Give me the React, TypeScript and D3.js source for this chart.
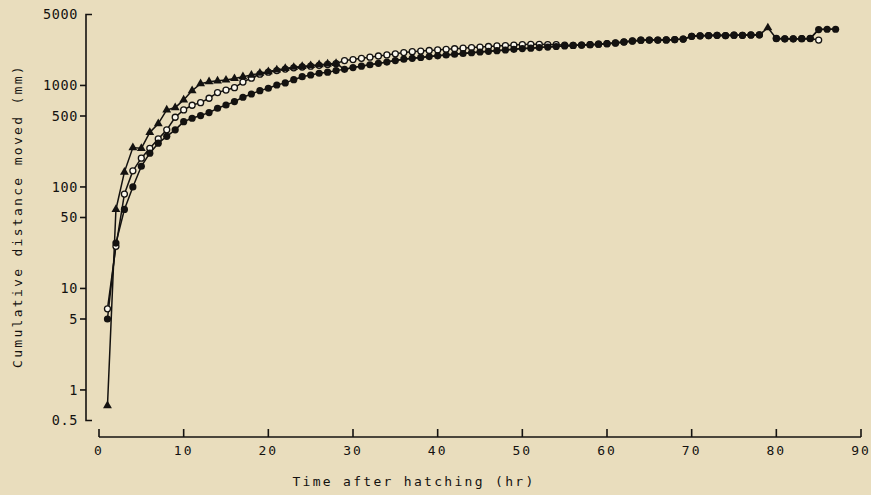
import React from 'react'
import * as d3 from 'd3'

// hours after hatching (one reading per hour)
const hours = [
  1, 2, 3, 4, 5, 6, 7, 8, 9, 10, 11, 12, 13, 14, 15, 16, 17, 18, 19, 20,
  21, 22, 23, 24, 25, 26, 27, 28, 29, 30, 31, 32, 33, 34, 35, 36, 37, 38, 39, 40,
  41, 42, 43, 44, 45, 46, 47, 48, 49, 50, 51, 52, 53, 54, 55, 56, 57, 58, 59, 60,
  61, 62, 63, 64, 65, 66, 67, 68, 69, 70, 71, 72, 73, 74, 75, 76, 77, 78, 79, 80,
  81, 82, 83, 84, 85, 86, 87,
]

// filled circles
const filledSeries: (number | null)[] = [
  5, 28, 60, 100, 160, 215, 270, 315, 365, 440,
  475, 505, 540, 596, 642, 693, 765, 824, 889, 938,
  1010, 1060, 1140, 1220, 1268, 1318, 1350, 1400, 1440, 1500,
  1550, 1600, 1650, 1700, 1760, 1815, 1850, 1890, 1925, 1960,
  1995, 2030, 2065, 2100, 2135, 2170, 2200, 2235, 2270, 2310,
  2330, 2360, 2390, 2420, 2450, 2480, 2500, 2520, 2550, 2580,
  2620, 2680, 2740, 2790, 2800, 2800, 2810, 2830, 2860, 3050,
  3080, 3100, 3120, 3100, 3130, 3120, 3140, 3150, null, 2900,
  2880, 2880, 2890, 2900, 3550, 3580, 3580,
]

// open circles
const openSeries: (number | null)[] = [
  6.3, 26, 85, 144, 192, 240, 297, 365, 486, 574,
  638, 677, 748, 850, 900, 950, 1080, 1180, 1290, 1350,
  1400, 1450, 1490, 1520, 1550, 1580, 1610, 1640, 1760, 1800,
  1850, 1900, 1950, 2000, 2050, 2110, 2150, 2180, 2210, 2240,
  2270, 2300, 2330, 2360, 2390, 2420, 2450, 2470, 2500, 2530,
  2540, 2540, 2530, 2520, 2500, 2480, 2500, 2520, 2550, 2580,
  2620, 2680, 2740, 2790, 2800, 2800, 2810, 2830, 2860, 3050,
  3080, 3100, 3120, 3100, 3130, 3120, 3140, 3150, null, 2900,
  2880, 2880, 2890, 2900, 2800,
]

// filled triangles
const triangleSeries: (number | null)[] = [
  0.7, 60, 140, 244, 240, 345, 420, 574, 605, 720,
  890, 1040, 1090, 1110, 1130, 1170, 1220, 1265, 1320, 1370,
  1420, 1470, 1510, 1540, 1570, 1600, 1630, 1650, 1440, 1500,
  1550, 1600, 1650, 1700, 1760, 1815, 1850, 1890, 1925, 1960,
  1995, 2030, 2065, 2100, 2135, 2170, 2200, 2235, 2270, 2310,
  2330, 2360, 2390, 2420, 2450, 2480, 2500, 2520, 2550, 2580,
  2620, 2680, 2740, 2790, 2800, 2800, 2810, 2830, 2860, 3050,
  3080, 3100, 3120, 3100, 3130, 3120, 3140, 3150, 3700, 2900,
  2880, 2880, 2890, 2900, 3550, 3580, 3580,
]

const xTicks = [0, 10, 20, 30, 40, 50, 60, 70, 80, 90]
const yTicks = [0.5, 1, 5, 10, 50, 100, 500, 1000, 5000]
const yTickLabels = ['0.5', '1', '5', '10', '50', '100', '500', '1000', '5000']

const W = 871
const H = 495
const BG = '#e9ddbd'
const INK = '#141210'
const FONT = '"DejaVu Sans Mono", "Liberation Mono", monospace'

export default function App() {
  const x = d3.scaleLinear().domain([0, 90]).range([99, 861])
  const y = d3.scaleLog().domain([0.5, 5000]).range([420.5, 14.5])
  const axisY = 86
  const axisX = 437

  const line = d3.line<number | null>()
    .defined(d => d != null)
    .x((_, i) => x(hours[i]))
    .y(d => y(d as number))

  const pts = (s: (number | null)[]) =>
    s.map((v, i) => ({ t: hours[i], v, i })).filter(p => p.v != null) as { t: number; v: number; i: number }[]

  const tri = d3.symbol(d3.symbolTriangle, 34)()
  // triangles that sit exactly under a filled circle are hidden by it in the original
  const triPts = pts(triangleSeries).filter(p => filledSeries[p.i] !== p.v)

  return (
    <div style={{ position: 'fixed', left: 0, top: 0, width: W, height: H, background: BG }}>
      <svg width={W} height={H} style={{ display: 'block' }}>
        <rect width={W} height={H} fill={BG} />

        {/* y axis */}
        <g stroke={INK} strokeWidth={1.6} fill="none">
          <path d={`M${axisY + 6},${y(5000)}H${axisY}V${y(0.5)}H${axisY + 6}`} />
          {yTicks.filter(t => t !== 5000 && t !== 0.5).map(t => (
            <line key={t} x1={axisY - 6} x2={axisY} y1={y(t)} y2={y(t)} />
          ))}
        </g>
        <g fill={INK} fontFamily={FONT} fontSize={13.5} textAnchor="end" letterSpacing={0.6}>
          {yTicks.map((t, i) => (
            <text key={t} x={axisY - 8} y={y(t)} dy="0.36em">{yTickLabels[i]}</text>
          ))}
        </g>

        {/* x axis */}
        <g stroke={INK} strokeWidth={1.6} fill="none">
          <line x1={x(0)} x2={x(90)} y1={axisX} y2={axisX} />
          {xTicks.map(t => (
            <line key={t} x1={x(t)} x2={x(t)} y1={axisX} y2={axisX - 8} />
          ))}
        </g>
        <g fill={INK} fontFamily={FONT} fontSize={13} textAnchor="middle" letterSpacing={2}>
          {xTicks.map(t => (
            <text key={t} x={x(t)} y={455}>{t}</text>
          ))}
        </g>

        {/* axis titles */}
        <text x={414} y={486} fill={INK} fontFamily={FONT} fontSize={13} textAnchor="middle" letterSpacing={2.3}>
          Time after hatching (hr)
        </text>
        <text transform="translate(22,216) rotate(-90)" fill={INK} fontFamily={FONT} fontSize={13}
          textAnchor="middle" letterSpacing={2.3}>
          Cumulative distance moved (mm)
        </text>

        {/* lines */}
        <g fill="none" stroke={INK} strokeWidth={1.5} strokeLinejoin="round">
          <path d={line(openSeries) ?? ''} />
          <path d={line(triangleSeries) ?? ''} />
          <path d={line(filledSeries) ?? ''} />
        </g>

        {/* markers */}
        <g>
          {pts(openSeries).map(p => (
            <circle key={'o' + p.t} cx={x(p.t)} cy={y(p.v)} r={3} fill="#fbf8ee" stroke={INK} strokeWidth={1.3} />
          ))}
        </g>
        <g fill={INK}>
          {triPts.map(p => (
            <path key={'t' + p.t} d={tri ?? ''} transform={`translate(${x(p.t)},${y(p.v)})`} />
          ))}
        </g>
        <g fill={INK}>
          {pts(filledSeries).map(p => (
            <circle key={'f' + p.t} cx={x(p.t)} cy={y(p.v)} r={3.6} />
          ))}
        </g>
      </svg>
    </div>
  )
}
